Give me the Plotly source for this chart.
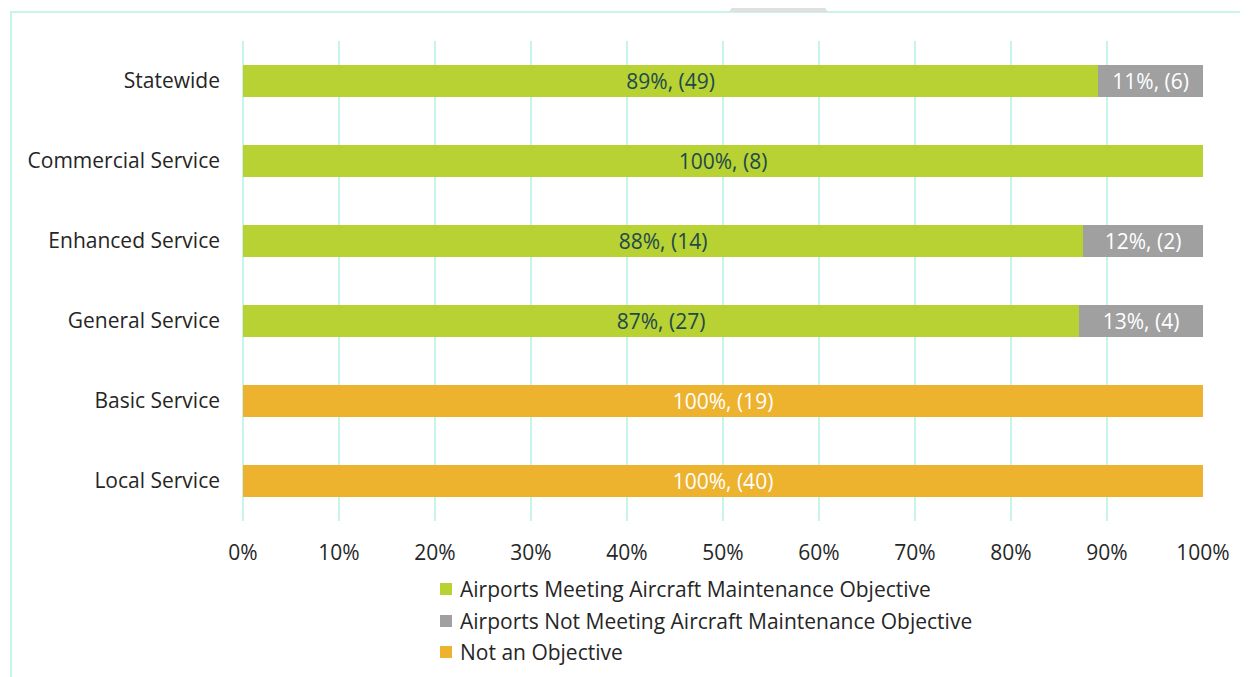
import plotly.graph_objects as go

categories = ["Statewide", "Commercial Service", "Enhanced Service",
              "General Service", "Basic Service", "Local Service"]
meeting_counts = [49, 8, 14, 27, 0, 0]
not_meeting_counts = [6, 0, 2, 4, 0, 0]
not_objective_counts = [0, 0, 0, 0, 19, 40]
series_names = ["Airports Meeting Aircraft Maintenance Objective",
                "Airports Not Meeting Aircraft Maintenance Objective",
                "Not an Objective"]
series_colors = ["#b8d133", "#a0a0a0", "#edb22e"]
text_colors = ["#1d4a4c", "#ffffff", "#ffffff"]
tick_vals = [0, 10, 20, 30, 40, 50, 60, 70, 80, 90, 100]
tick_text = ["0%", "10%", "20%", "30%", "40%", "50%", "60%", "70%", "80%", "90%", "100%"]

FONT = "Open Sans"
OFF = 8  # page body margin
W, H = 1248 - OFF, 677 - OFF
# target screen coordinates of plot area
L, R, T, B = 243, 1203, 41, 521

totals = [a + b + c for a, b, c in zip(meeting_counts, not_meeting_counts, not_objective_counts)]
all_counts = [meeting_counts, not_meeting_counts, not_objective_counts]

fig = go.Figure()
for name, counts, color, tcol in zip(series_names, all_counts, series_colors, text_colors):
    shares = [100.0 * c / t for c, t in zip(counts, totals)]
    labels = [f"{round(s)}%, ({c})" if c > 0 else "" for s, c in zip(shares, counts)]
    fig.add_trace(go.Bar(
        y=categories, x=shares, name=name, orientation="h",
        marker=dict(color=color, line=dict(width=0)),
        text=labels, textposition="inside", insidetextanchor="middle",
        constraintext="none",
        textfont=dict(family=FONT, size=21, color=tcol),
        showlegend=False, hoverinfo="skip",
    ))

def px(xp):
    return (xp - L) / (R - L)

def py(yp):
    return (B - yp) / (B - T)

shapes = []
# outer border
shapes.append(dict(type="rect", xref="paper", yref="paper",
                   x0=px(11), x1=px(1262), y0=py(12), y1=py(690),
                   line=dict(color="#c6f3ea", width=2), fillcolor="rgba(0,0,0,0)", layer="below"))
# grey decorative trapezoid at top
shapes.append(dict(type="path", xref="paper", yref="paper",
                   path=f"M {px(729)},{py(12)} L {px(738)},{py(-2)} L {px(818)},{py(-2)} L {px(828)},{py(12)} Z",
                   fillcolor="#e0e0e0", line=dict(width=0), layer="below"))

annotations = []
legend_rows = [589, 621, 652]
for name, color, yrow in zip(series_names, series_colors, legend_rows):
    shapes.append(dict(type="rect", xref="paper", yref="paper",
                       x0=px(440), x1=px(452), y0=py(yrow + 6), y1=py(yrow - 6),
                       fillcolor=color, line=dict(width=0)))
    annotations.append(dict(xref="paper", yref="paper", x=px(458), y=py(yrow),
                            xanchor="left", yanchor="middle", showarrow=False,
                            text=name, font=dict(family=FONT, size=21, color="#262626")))

fig.update_layout(
    width=W, height=H, barmode="stack", bargap=0.6,
    margin=dict(l=L - OFF, r=W - (R - OFF), t=T - OFF, b=H - (B - OFF), pad=0),
    paper_bgcolor="white", plot_bgcolor="white",
    font=dict(family=FONT, size=21, color="#262626"),
    xaxis=dict(range=[0, 100], tickvals=tick_vals, ticktext=tick_text,
               showgrid=True, gridcolor="#c6f3ea", gridwidth=1.5,
               zeroline=True, zerolinecolor="#c6f3ea", zerolinewidth=1.5,
               showline=False, ticks="", ticklabelstandoff=17,
               tickfont=dict(family=FONT, size=21, color="#262626"), fixedrange=True),
    yaxis=dict(categoryorder="array", categoryarray=categories, autorange="reversed",
               showgrid=False, zeroline=False, showline=False, ticks="",
               ticklabelstandoff=22,
               tickfont=dict(family=FONT, size=21, color="#262626")),
    shapes=shapes, annotations=annotations, showlegend=False,
    uniformtext=dict(mode=False),
)

fig.write_html("out.html")
